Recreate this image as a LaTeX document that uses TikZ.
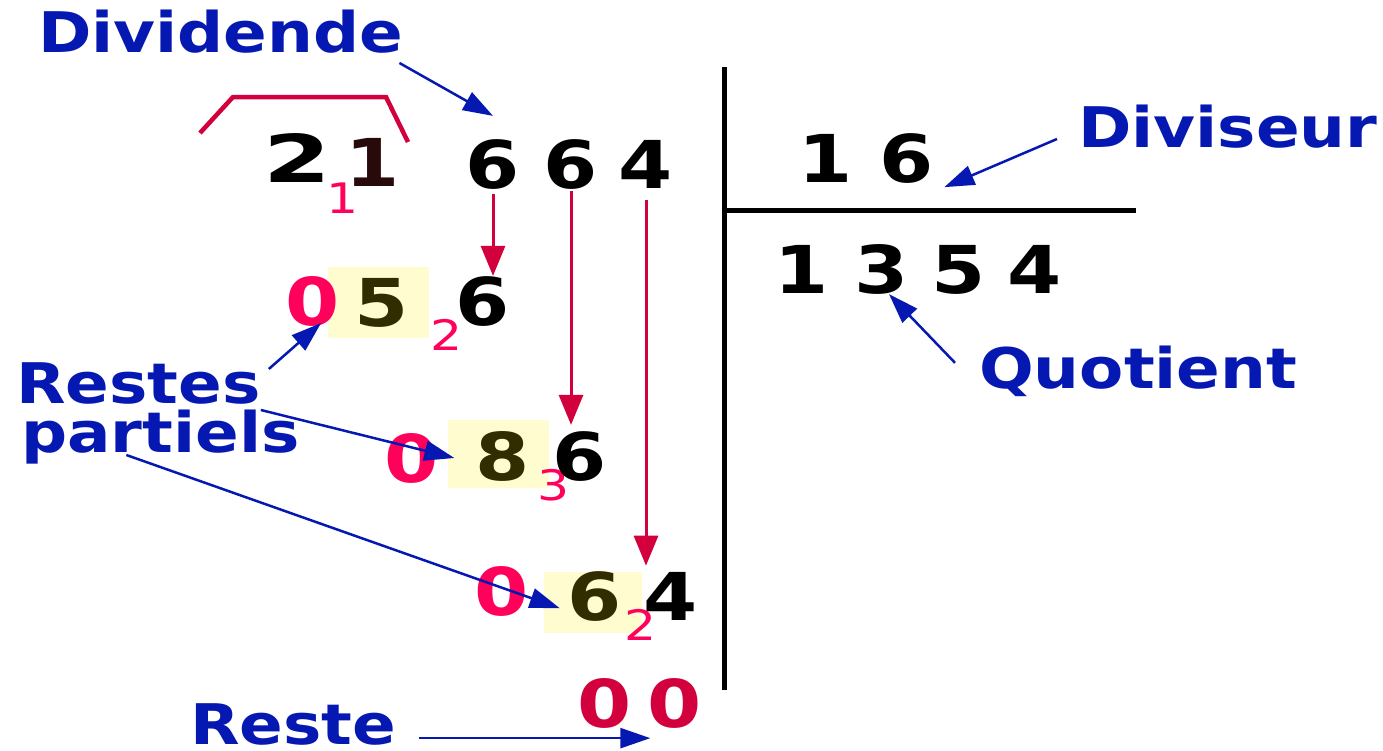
\documentclass[tikz,border=0pt]{standalone}
\usepackage{fontspec}
\setmainfont{DejaVu Sans}
\usetikzlibrary{arrows.meta}
\definecolor{lblue}{RGB}{6,24,178}
\definecolor{pinkred}{RGB}{255,0,90}
\definecolor{crim}{RGB}{210,0,60}
\definecolor{boxfill}{RGB}{255,252,208}
\definecolor{olive}{RGB}{50,45,0}
\definecolor{darkone}{RGB}{40,10,10}
\tikzset{lbl/.style={text=lblue,font=\fontsize{56}{56}\selectfont\bfseries,inner sep=0pt,anchor=base west,xscale=1.15},
  dig/.style={font=\fontsize{66}{66}\selectfont\bfseries,inner sep=0pt,anchor=base,xscale=1.18},
  zero/.style={dig,text=pinkred},
  idx/.style={font=\fontsize{42}{42}\selectfont,text=pinkred,inner sep=0pt,anchor=base,xscale=1.2},
  bluarr/.style={lblue,line width=2.5pt,-{Triangle[length=30pt,width=20pt]}},
  redarr/.style={crim,line width=3pt,-{Triangle[length=30pt,width=24pt]}}}

\begin{document}
\begin{tikzpicture}[x=1pt,y=-1pt]
\useasboundingbox (0,0) rectangle (1383,750);
\fill[boxfill] (328,267) rectangle (429,338);
\fill[boxfill] (448,420) rectangle (549,488);
\fill[boxfill] (544,572) rectangle (642,633);
\node[lbl] (dvd) at (38,52) {Dividende};
\node[lbl] (dvs) at (1078,147) {Diviseur};
\node[lbl] (quo) at (979,388) {Quotient};
\node[lbl] (rp1) at (16,403) {Restes};
\node[lbl] (rp2) at (21,452) {partiels};
\node[lbl] (rst) at (190,744) {Reste};
\draw[crim,line width=4.5pt] (200,133) -- (233,97) -- (386,97) -- (408,142);
\node[dig,xscale=1.25] (n2) at (297,182) {2};
\node[dig,text=darkone] (n1) at (373,186) {1};
\node[idx] (i1) at (343,213) {1};
\node[dig] (n6a) at (493,188) {6};
\node[dig] (n6b) at (571,188) {6};
\node[dig] (n4) at (646,188) {4};
\draw[line width=5pt] (724,67) -- (724,690);
\draw[line width=5pt] (724,210) -- (1136,210);
\node[dig] (s1) at (826,182) {1};
\node[dig] (s6) at (907,182) {6};
\foreach \x/\d [count=\i] in {802/1,882/3,959/5,1035/4}
  \node[dig] (q\i) at (\x,293) {\d};
\node[zero] (r1z) at (313,325) {0};
\node[dig,text=olive] (r1b) at (382,326) {5};
\node[idx] (r1i) at (447,350) {2};
\node[dig] (r1c) at (483,325) {6};
\node[zero] (r2z) at (412,482) {0};
\node[dig,text=olive] (r2b) at (503,480) {8};
\node[idx] (r2i) at (554,500) {3};
\node[dig] (r2c) at (580,480) {6};
\node[zero] (r3z) at (502,615) {0};
\node[dig,text=olive] (r3b) at (595,620) {6};
\node[idx] (r3i) at (641,640) {2};
\node[dig] (r3c) at (671,620) {4};
\node[dig,text=crim] (z1) at (605,727) {0};
\node[dig,text=crim] (z2) at (675,727) {0};
\draw[redarr,shorten <=5pt] (n6a.south) -- (n6a.south |- r1c.north);
\draw[redarr,shorten <=2pt] (n6b.south) -- ([yshift=6pt]n6b.south |- r2c.north);
\draw[redarr,shorten <=12pt] (n4.south) -- ([yshift=6pt]n4.south |- r3c.north);
\draw[bluarr] ([xshift=-4pt,yshift=-10pt]dvd.south east) -- ([yshift=23pt]n6a.north);
\draw[bluarr] ([xshift=-21pt,yshift=9pt]dvs.south west) -- ([xshift=10pt,yshift=-4pt]s6.south east);
\draw[bluarr] ([xshift=-24pt,yshift=8pt]quo.west) -- ([xshift=7pt]q2.south);
\draw[bluarr] ([xshift=8pt,yshift=-7pt]rp1.north east) -- ([xshift=8pt,yshift=3pt]r1z.south);
\draw[bluarr] ([yshift=-6pt]rp1.south east) -- ([xshift=15pt]r2z.east);
\draw[bluarr] ([xshift=-34pt,yshift=-3pt]rp2.base) -- ([xshift=-8pt,yshift=13pt]r3b.south west);
\draw[bluarr] ([xshift=22pt,yshift=-10pt]z1.south east -| rst.east) -- ([xshift=18pt,yshift=-10pt]z1.south east);
\end{tikzpicture}
\end{document}
